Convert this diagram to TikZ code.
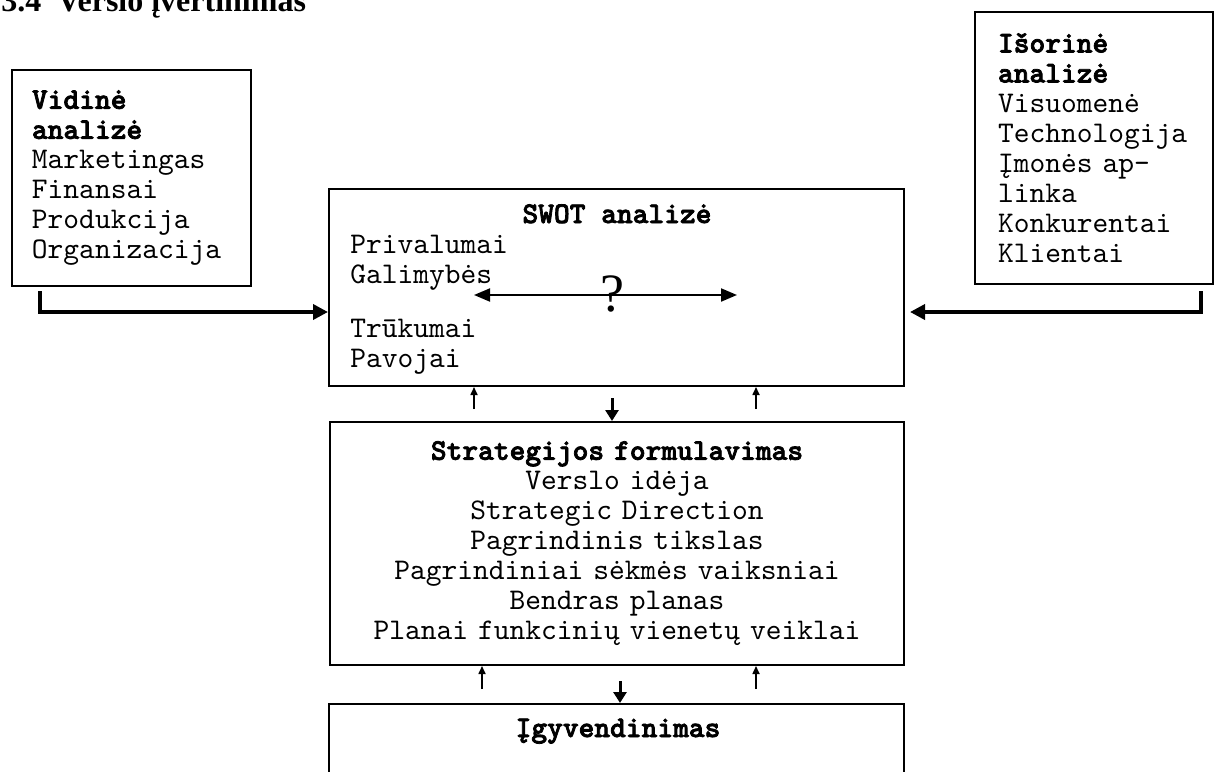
\documentclass[tikz,border=0pt]{standalone}
\usepackage{fontspec}
\setmainfont{Liberation Serif}
\setmonofont{lmmono10-regular.otf}[BoldFont=lmmonolt10-bold.otf, BoldFeatures={FakeBold=2.5}]
\usetikzlibrary{arrows.meta}

\begin{document}
\begin{tikzpicture}[
    x=0.5pt, y=-0.5pt,
    box/.style={rectangle, draw, line width=1pt, inner xsep=10pt, inner ysep=0pt, align=left, font=\ttfamily\fontsize{15}{15}\selectfont},
    txt/.style={inner sep=0pt, font=\ttfamily\fontsize{15}{15}\selectfont},
    arrow/.style={-{Triangle[length=7.5pt, width=7.5pt]}, line width=1.8pt},
    downarrow/.style={-{Triangle[length=5.5pt, width=6.5pt]}, line width=1.5pt},
    uparrow/.style={-{Triangle[length=4pt, width=3.5pt]}, line width=0.8pt},
    biarrow/.style={{Triangle[length=8pt, width=6.5pt]}-{Triangle[length=8pt, width=6.5pt]}, line width=1pt}
]
\useasboundingbox (0,0) rectangle (1214,771);

\node[anchor=base west, inner sep=0pt, font=\bfseries\fontsize{16}{16}\selectfont] (heading) at (1,11) {3.4\hspace{8pt}Verslo įvertinimas};

\node[box, text width=99.5pt, minimum height=108pt] (vidine) at (131.5,178) {\textbf{Vidinė}\\\textbf{analizė}\\Marketingas\\Finansai\\Produkcija\\Organizacija};
\node[box, inner xsep=11.5pt, text width=96pt, minimum height=136pt] (isorine) at (1094,148) {\textbf{Išorinė}\\\textbf{analizė}\\Visuomenė\\Technologija\\Įmonės ap-\\linka\\Konkurentai\\Klientai};

\node[box, minimum width=287.5pt, minimum height=98.5pt] (swot) at (616.5,287.5) {};
\node[txt, anchor=base] (swottitle) at (617,223) {\textbf{SWOT analizė}};
\node[txt, anchor=base west, text width=100pt, align=left] (swotlist) at (350,253) {Privalumai\\Galimybės\\[12pt]Trūkumai\\Pavojai};
\coordinate (qleft) at (474,295);
\coordinate (qright) at (737,295);
\draw[biarrow] (qleft) -- (qright);
\node[inner sep=0pt, font=\fontsize{27}{27}\selectfont] (question) at (612,294) {?};

\node[box, text width=267pt, align=center, minimum height=121.5pt] (strategy) at (617,543.5) {\textbf{Strategijos formulavimas}\\Verslo idėja\\Strategic Direction\\Pagrindinis tikslas\\Pagrindiniai sėkmės vaiksniai\\Bendras planas\\Planai funkcinių vienetų veiklai};

\node[box, minimum width=287.5pt, minimum height=100pt, anchor=north] (igyv) at (616.5,703) {};
\node[txt, anchor=base] (igyvtitle) at (618,737) {\textbf{Įgyvendinimas}};

\draw[arrow] ([xshift=14.5pt,yshift=-2pt]vidine.south west) |- ([yshift=-12.25pt]swot.west);
\draw[arrow] ([xshift=-6.5pt,yshift=-3pt]isorine.south east) |- ([xshift=2.5pt,yshift=-12.25pt]swot.east);

\draw[uparrow] ([xshift=72.5pt,yshift=6pt]strategy.north west) -- ([xshift=73pt]swot.south west);
\draw[uparrow] ([xshift=213.5pt,yshift=6pt]strategy.north west) -- ([xshift=214pt]swot.south west);
\draw[downarrow] ([xshift=-2.25pt,yshift=-5.5pt]swot.south) -- ([xshift=-2.5pt]strategy.north);

\draw[uparrow] ([xshift=77pt,yshift=7pt]igyv.north west) -- ([xshift=76.5pt]strategy.south west);
\draw[uparrow] ([xshift=214pt,yshift=7pt]igyv.north west) -- ([xshift=213.5pt]strategy.south west);
\draw[downarrow] ([xshift=1.5pt,yshift=-7.5pt]strategy.south) -- ([xshift=1.75pt]igyv.north);
\end{tikzpicture}
\end{document}
